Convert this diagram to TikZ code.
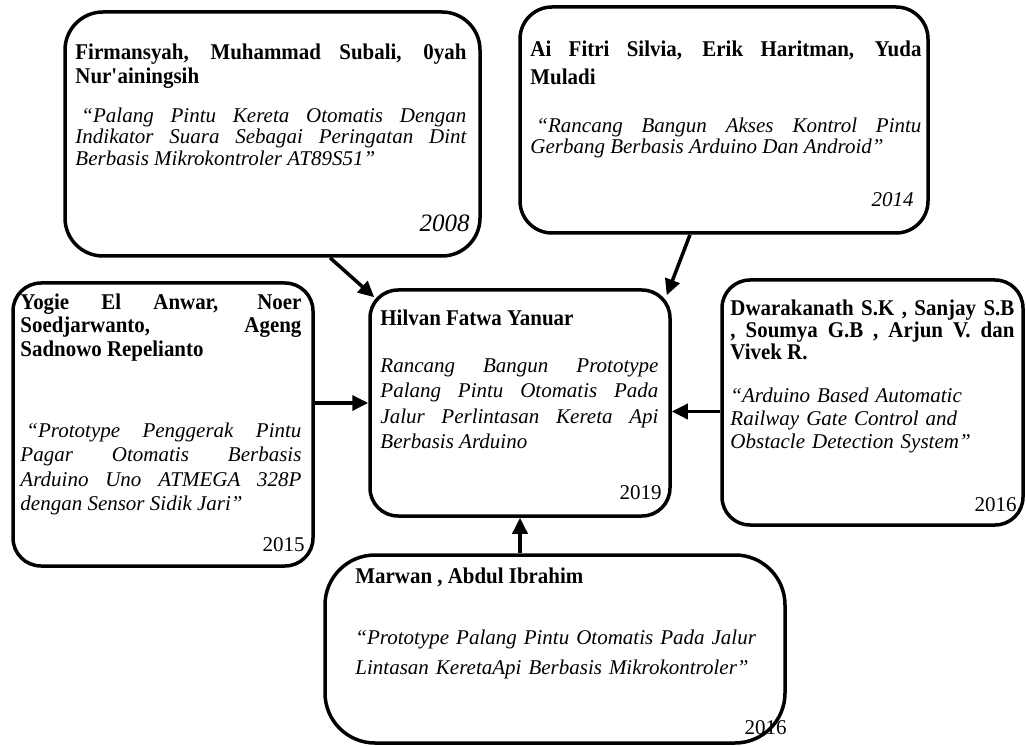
\documentclass[tikz,border=0pt]{standalone}
\usepackage{fontspec}
\setmainfont{Liberation Serif}[BoldFeatures={FakeStretch=0.93}]
\usetikzlibrary{positioning,arrows.meta}

\tikzset{
  box/.style={draw, line width=3.5pt, rounded corners=28pt, inner sep=0pt},
  authors/.style={font=\bfseries\fontsize{22.5}{24}\selectfont, align=justify, inner sep=0pt},
  paper/.style={font=\itshape\fontsize{21}{24}\selectfont, align=justify, inner sep=0pt},
  yearlabel/.style={font=\fontsize{21}{24}\selectfont, inner sep=0pt},
  link/.style={-{Triangle[length=16pt,width=15pt]}, line width=3.5pt}
}

\begin{document}
\begin{tikzpicture}[x=1pt, y=-1pt]
  \useasboundingbox (0,0) rectangle (1026,746);

  % Boxes
  \node[box, minimum width=415pt, minimum height=244pt, rounded corners=38pt] (firmansyah) at (272.5,134) {};
  \node[box, minimum width=408pt, minimum height=226pt, rounded corners=32pt] (silvia) at (724,120) {};
  \node[box, minimum width=300pt, minimum height=283pt] (anwar) at (163,424.5) {};
  \node[box, minimum width=300pt, minimum height=226pt] (hilvan) at (520,403) {};
  \node[box, minimum width=301pt, minimum height=245pt] (dwarakanath) at (872.5,402.5) {};
  \node[box, minimum width=460pt, minimum height=188pt, rounded corners=50pt] (marwan) at (555,649) {};

  % Top left
  \node[authors, text width=391pt, below right=33pt and 12pt of firmansyah.north west] (firmansyahName) {Firmansyah, Muhammad Subali, 0yah\linebreak Nur\textquotesingle ainingsih};
  \node[paper, text width=391pt, font=\itshape\fontsize{21}{21.5}\selectfont, below right=97pt and 12pt of firmansyah.north west] (firmansyahTitle) {\hspace*{6pt}“Palang Pintu Kereta Otomatis Dengan\linebreak Indikator Suara Sebagai Peringatan Dint\linebreak Berbasis Mikrokontroler AT89S51”};
  \node[yearlabel, font=\itshape\fontsize{25}{28}\selectfont, above left=26pt and 12pt of firmansyah.south east] (firmansyahYear) {2008};

  % Top right
  \node[authors, text width=391pt, font=\bfseries\fontsize{22.5}{28}\selectfont, below right=35pt and 12pt of silvia.north west] (silviaName) {Ai Fitri Silvia, Erik Haritman, Yuda\linebreak Muladi};
  \node[paper, text width=391pt, font=\itshape\fontsize{21}{21.5}\selectfont, below right=112pt and 12pt of silvia.north west] (silviaTitle) {\hspace*{6pt}“Rancang Bangun Akses Kontrol Pintu\linebreak Gerbang Berbasis Arduino Dan Android”};
  \node[yearlabel, font=\itshape\fontsize{21}{24}\selectfont, above left=28pt and 16pt of silvia.south east] (silviaYear) {2014};

  % Left
  \node[authors, text width=281pt, font=\bfseries\fontsize{22.5}{23.5}\selectfont, below right=12pt and 9pt of anwar.north west] (anwarName) {Yogie El Anwar, Noer\linebreak Soedjarwanto, Ageng\linebreak Sadnowo Repelianto};
  \node[paper, text width=281pt, font=\itshape\fontsize{21}{24.5}\selectfont, below right=141pt and 9pt of anwar.north west] (anwarTitle) {\hspace*{6pt}“Prototype Penggerak Pintu\linebreak Pagar Otomatis Berbasis\linebreak Arduino Uno ATMEGA 328P\linebreak dengan Sensor Sidik Jari”};
  \node[yearlabel, above left=16pt and 10pt of anwar.south east] (anwarYear) {2015};

  % Centre
  \node[authors, text width=278pt, below right=21pt and 12pt of hilvan.north west] (hilvanName) {Hilvan Fatwa Yanuar};
  \node[paper, text width=278pt, font=\itshape\fontsize{21}{25.5}\selectfont, below right=70pt and 12pt of hilvan.north west] (hilvanTitle) {Rancang Bangun Prototype\linebreak Palang Pintu Otomatis Pada\linebreak Jalur Perlintasan Kereta Api\linebreak Berbasis Arduino};
  \node[yearlabel, above left=18pt and 10pt of hilvan.south east] (hilvanYear) {2019};

  % Right
  \node[authors, text width=284pt, font=\bfseries\fontsize{22.5}{22}\selectfont, below right=21pt and 10pt of dwarakanath.north west] (dwarakanathName) {Dwarakanath S.K , Sanjay S.B\linebreak , Soumya G.B , Arjun V. dan\linebreak Vivek R.};
  \node[paper, align=left, text width=284pt, font=\itshape\fontsize{21}{23}\selectfont, below right=109pt and 10pt of dwarakanath.north west] (dwarakanathTitle) {“Arduino Based Automatic\\Railway Gate Control and\\Obstacle Detection System”};
  \node[yearlabel, above left=15pt and 8pt of dwarakanath.south east] (dwarakanathYear) {2016};

  % Bottom
  \node[authors, text width=420pt, below right=14pt and 32pt of marwan.north west] (marwanName) {Marwan , Abdul Ibrahim};
  \node[paper, align=left, text width=420pt, font=\itshape\fontsize{21}{30}\selectfont, below right=76pt and 32pt of marwan.north west] (marwanTitle) {“Prototype Palang Pintu Otomatis Pada Jalur\\Lintasan KeretaApi Berbasis Mikrokontroler”};
  \node[yearlabel, above left=10pt and 0pt of marwan.south east] (marwanYear) {2016};

  % Arrows into the centre box
  \draw[link] ([xshift=57.5pt]firmansyah.south) -- ([xshift=6pt,yshift=-9pt]hilvan.north west);
  \draw[link] ([xshift=-34pt]silvia.south) -- ([xshift=-5pt,yshift=-7pt]hilvan.north east);
  \draw[link] (anwar.east |- hilvan.west) -- (hilvan.west);
  \draw[link] ([yshift=-9pt]dwarakanath.west) -- ([yshift=-9pt]dwarakanath.west -| hilvan.east);
  \draw[link] (hilvan.south |- marwan.north) -- (hilvan.south);
\end{tikzpicture}
\end{document}
